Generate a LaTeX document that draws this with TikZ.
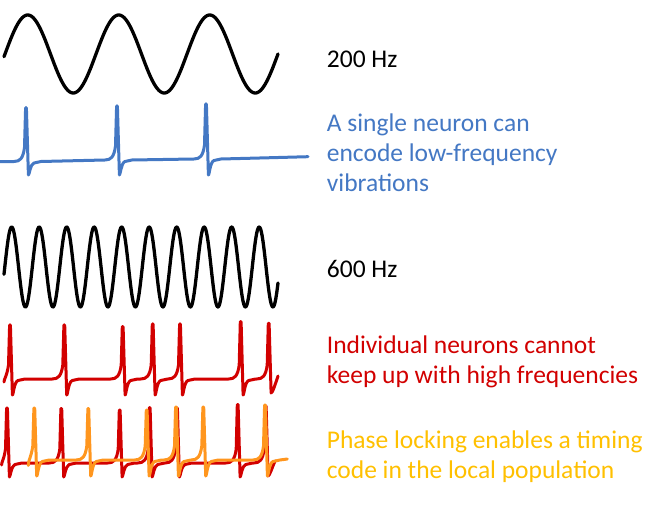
\documentclass[tikz,border=0pt]{standalone}
\usepackage{fontspec}
\setmainfont{Carlito}
\definecolor{cblue}{RGB}{68,120,196}
\definecolor{cred}{RGB}{210,0,0}
\definecolor{corange}{RGB}{255,150,30}
\definecolor{cgold}{RGB}{255,192,0}
% spike path segment: #1 peak x, #2 baseline, #3 top, #4 undershoot
\newcommand\spike[4]{ .. controls ({#1-6},{#2}) and ({#1-3},{#2-3}) .. ({#1-1.5},{#2-14}) -- ({#1-0.4},{#3}) -- ({#1+0.4},{#3}) -- ({#1+2.4},{#4}) .. controls ({#1+3.4},{#4}) and ({#1+4},{#2+3}) .. ({#1+8},{#2+1.5}) .. controls ({#1+11},{#2+0.5}) .. ({#1+15},{#2})}
\newcommand\spikehead[4]{ .. controls ({#1-6},{#2}) and ({#1-3},{#2-3}) .. ({#1-1.5},{#2-14}) -- ({#1-0.4},{#3}) -- ({#1+0.4},{#3}) -- ({#1+2.4},{#4})}
\begin{document}
\begin{tikzpicture}[x=1pt,y=-1pt,
  wave/.style={line width=3.3pt,black,line join=round,line cap=round},
  trace/.style={line width=3pt,line join=round,line cap=round},
  lbl/.style={anchor=base west,inner sep=0pt,font=\fontsize{25.5}{30}\selectfont}]
\useasboundingbox (0,0) rectangle (662,505);
\fill[white] (0,0) rectangle (662,505);
% 200 Hz sine
\draw[wave] plot[domain=4:278,samples=240] (\x,{54-39*sin(3.956*(\x-5))});
% blue single neuron
\draw[trace,cblue] (0,161.7) -- (14,161.5) \spike{26}{161.5}{107.7}{175}
  -- (105,160) \spike{117}{160}{106}{175}
  -- (194,159) \spike{206}{159}{104}{175}
  .. controls (260,158) .. (308,156.7);
% 600 Hz sine
\draw[wave] plot[domain=4:278,samples=400] (\x,{267-40*sin(13.091*(\x-4.8))});
% red individual neuron
\draw[trace,cred] (4,382) \spike{10}{379}{325}{395}
  -- (52.3,379) \spike{64.3}{379}{325}{395}
  -- (110.7,379) \spike{122.7}{379}{326.7}{395}
  -- (140.7,379) \spike{152.7}{379}{324}{395}
  -- (168,379) \spike{180}{379}{324}{395}
  -- (228.7,379) \spike{240.7}{379}{321.7}{395}
  -- (256.7,379) \spikehead{268.7}{379}{323.3}{393}
  .. controls (272.5,393) and (275,385) .. (278,376);
% red in population
\draw[trace,cred] (1.7,465) \spike{7}{463}{408}{477}
  -- (49.3,463) \spike{61.3}{463}{408.5}{477}
  -- (107.7,463) \spike{119.7}{463}{410}{477}
  -- (137.7,463) \spike{149.7}{463}{407.7}{477}
  -- (165,463) \spike{177}{463}{408}{477}
  -- (225.7,463) \spike{237.7}{463}{404.5}{477}
  -- (253.7,463) \spikehead{265.7}{463}{406}{476}
  .. controls (269.5,476) and (272,468) .. (275,461);
% orange in population
\draw[trace,corange] (28.3,465.5) \spike{34.3}{460}{408}{476}
  -- (76.3,460) \spike{88.3}{460}{408.5}{476}
  -- (134.7,460) \spike{146.7}{460}{410}{476}
  -- (164,460) \spike{176}{460}{407}{476}
  -- (191.3,460) \spike{203.3}{460}{407}{476}
  -- (253,460) \spike{265}{460}{405}{476}
  -- (287.3,459);
% labels
\node[lbl] (f200) at (326.7,67.3) {200 Hz};
\node[lbl,text=cblue] (b1) at (326.7,131.7) {A single neuron can};
\node[lbl,text=cblue] (b2) at (326.7,161.7) {encode low-frequency};
\node[lbl,text=cblue] (b3) at (326.7,191.7) {vibrations};
\node[lbl] (f600) at (326.7,277.3) {600 Hz};
\node[lbl,text=cred] (r1) at (326.7,353.3) {Individual neurons cannot};
\node[lbl,text=cred] (r2) at (326.7,383.3) {keep up with high frequencies};
\node[lbl,text=cgold] (g1) at (326.7,448.3) {Phase locking enables a timing};
\node[lbl,text=cgold] (g2) at (326.7,478.3) {code in the local population};
\end{tikzpicture}
\end{document}
